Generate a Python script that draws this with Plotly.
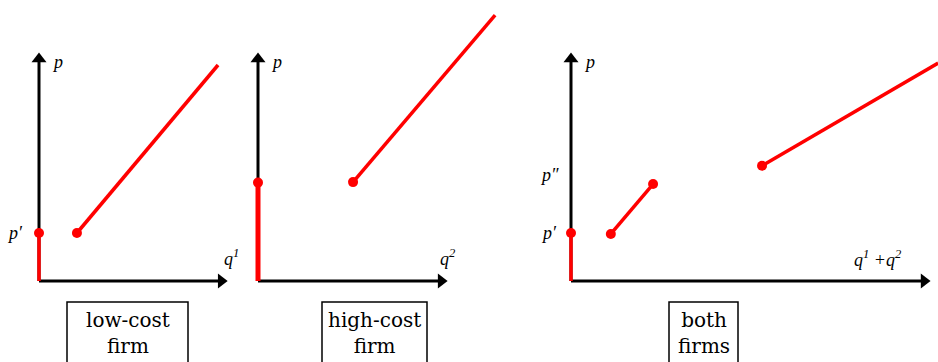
import plotly.graph_objects as go

# ---- supply data (price p against quantity q) ----
p_low = 1.0          # p'  : shutdown price of the low-cost firm
p_high = 2.05        # p'' : shutdown price of the high-cost firm

# low-cost firm supply curve
low_q = [0.79, 3.73]
low_p = [1.0, 4.5]

# high-cost firm supply curve
high_q = [1.98, 4.94]
high_p = [2.06, 5.54]

# industry (both firms) supply: two pieces
both1_q = [0.83, 1.71]
both1_p = [0.98, 2.02]
both2_q = [3.98, 7.65]
both2_p = [2.40, 4.54]

# axis and box labels
panel_titles = ["low-cost<br>firm", "high-cost<br>firm", "both<br>firms"]
q_labels = ["q<sup>1</sup>", "q<sup>2</sup>", "q<sup>1</sup> +q<sup>2</sup>"]

W, H = 938, 362
PX_PER_UNIT = 48.0
Y0_PX = 281  # pixel row of the quantity axis


def px_x(px):
    return px / W


def px_y(py):
    return 1 - py / H


RED = "#ff0000"
LBL_FONT = dict(family="Liberation Serif", size=18, color="black", style="italic")
BOX_FONT = dict(family="DejaVu Serif", size=20, color="black")

# panel layout: (domain left px, domain right px, origin px)
panels = [(0, 240, 39), (240, 520, 258), (520, 938, 571)]
x_tips = [3.92, 3.94, 7.48]
y_tip = 4.75
HEAD = 6 / PX_PER_UNIT  # half length of an arrow head

fig = go.Figure()

yrange = [(Y0_PX - H) / PX_PER_UNIT, Y0_PX / PX_PER_UNIT]
layout_axes = {}
for i, (l, r, o) in enumerate(panels):
    sfx = "" if i == 0 else str(i + 1)
    layout_axes["xaxis" + sfx] = dict(
        domain=[px_x(l), px_x(r)],
        range=[(l - o) / PX_PER_UNIT, (r - o) / PX_PER_UNIT],
        visible=False, fixedrange=True, anchor="y" + sfx,
    )
    layout_axes["yaxis" + sfx] = dict(
        domain=[0, 1], range=yrange, visible=False, fixedrange=True,
        anchor="x" + sfx,
    )

refs = [("x", "y"), ("x2", "y2"), ("x3", "y3")]

# axes drawn as black lines with triangular heads at their tips
for i, (xr, yr) in enumerate(refs):
    fig.add_trace(go.Scatter(x=[0, 0], y=[0, y_tip - HEAD], mode="lines", xaxis=xr, yaxis=yr,
                             line=dict(color="black", width=3),
                             hoverinfo="skip", showlegend=False))
    fig.add_trace(go.Scatter(x=[0, x_tips[i] - HEAD], y=[0, 0], mode="lines", xaxis=xr, yaxis=yr,
                             line=dict(color="black", width=3),
                             hoverinfo="skip", showlegend=False))
    fig.add_trace(go.Scatter(x=[0, x_tips[i] - HEAD], y=[y_tip - HEAD, 0], mode="markers",
                             xaxis=xr, yaxis=yr,
                             marker=dict(symbol=["triangle-up", "triangle-right"], size=13,
                                         color="black", line=dict(width=0)),
                             hoverinfo="skip", showlegend=False))


def seg(q, p, xa, ya, width=3.5):
    fig.add_trace(go.Scatter(x=q, y=p, mode="lines", xaxis=xa, yaxis=ya,
                             line=dict(color=RED, width=width),
                             hoverinfo="skip", showlegend=False))


def dots(q, p, xa, ya):
    fig.add_trace(go.Scatter(x=q, y=p, mode="markers", xaxis=xa, yaxis=ya,
                             marker=dict(color=RED, size=10),
                             hoverinfo="skip", showlegend=False))


# low-cost firm
seg([0, 0], [0, p_low], "x", "y")
seg(low_q, low_p, "x", "y")
dots([0, low_q[0]], [p_low, low_p[0]], "x", "y")

# high-cost firm
seg([0, 0], [0, p_high], "x2", "y2", width=5)
seg(high_q, high_p, "x2", "y2")
dots([0, high_q[0]], [p_high, high_p[0]], "x2", "y2")

# both firms
seg([0, 0], [0, p_low], "x3", "y3")
seg(both1_q, both1_p, "x3", "y3")
seg(both2_q, both2_p, "x3", "y3")
dots([0, both1_q[0], both1_q[1], both2_q[0]],
     [p_low, both1_p[0], both1_p[1], both2_p[0]], "x3", "y3")

shapes = []
annotations = []
for xr, yr in refs:
    # p label near the top of the price axis
    annotations.append(dict(x=0.38, y=4.56, xref=xr, yref=yr, text="p",
                            showarrow=False, font=LBL_FONT))

# price level labels
annotations.append(dict(x=-0.5, y=p_low, xref="x", yref="y", text="p′",
                        showarrow=False, font=LBL_FONT))
annotations.append(dict(x=-0.5, y=p_high + 0.02, xref="x2", yref="y2", text="p″",
                        showarrow=False, font=LBL_FONT))
annotations.append(dict(x=-0.45, y=p_low, xref="x3", yref="y3", text="p′",
                        showarrow=False, font=LBL_FONT))
annotations.append(dict(x=-0.45, y=p_high + 0.15, xref="x3", yref="y3", text="p″",
                        showarrow=False, font=LBL_FONT))

# quantity labels
q_pos = [(222, 271), (448, 271), (904, 272)]
for txt, (qx, qy) in zip(q_labels, q_pos):
    annotations.append(dict(x=px_x(qx), y=px_y(qy), xref="paper", yref="paper",
                            text=txt, showarrow=False, font=LBL_FONT))

# boxed panel titles
boxes = [(67, 188), (322, 427), (669, 738)]
for txt, (bl, br) in zip(panel_titles, boxes):
    shapes.append(dict(type="rect", xref="paper", yref="paper",
                       x0=px_x(bl), x1=px_x(br), y0=px_y(H + 20), y1=px_y(302),
                       line=dict(color="black", width=1.5), fillcolor="rgba(0,0,0,0)"))
    annotations.append(dict(x=px_x((bl + br) / 2), y=px_y(333), xref="paper", yref="paper",
                            text=txt, showarrow=False, font=BOX_FONT,
                            xanchor="center", yanchor="middle"))

fig.update_layout(
    width=W, height=H,
    margin=dict(l=0, r=0, t=0, b=0),
    paper_bgcolor="white", plot_bgcolor="white",
    shapes=shapes, annotations=annotations,
    showlegend=False,
    **layout_axes,
)

fig.write_html("out.html", config={"displayModeBar": False})
